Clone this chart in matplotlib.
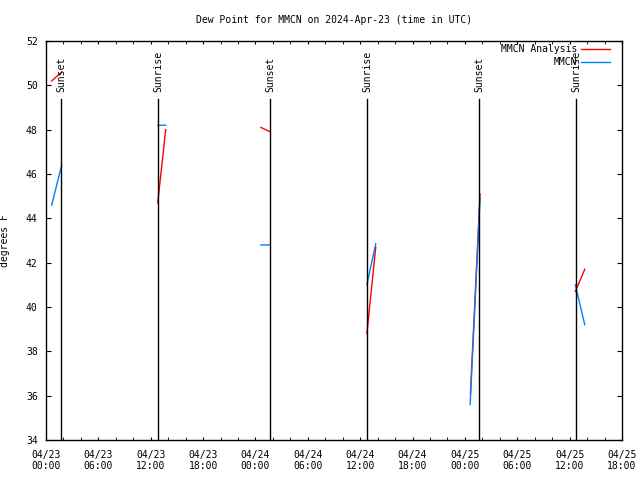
import matplotlib
matplotlib.use('Agg')
import matplotlib.pyplot as plt
import matplotlib.dates as mdates
import matplotlib.transforms as mtransforms
import numpy as np
import pandas as pd

plt.rcParams['font.family'] = 'DejaVu Sans Mono'
plt.rcParams['font.size'] = 7

# Analysis series (red), NaN breaks between windows
analysis_times = ['2024-04-23 00:39', '2024-04-23 01:48', None,
                  '2024-04-23 12:48', '2024-04-23 13:43', None,
                  '2024-04-24 00:38', '2024-04-24 01:42', None,
                  '2024-04-24 12:46', '2024-04-24 13:47', None,
                  '2024-04-25 00:38', '2024-04-25 01:44', None,
                  '2024-04-25 12:39', '2024-04-25 13:44']
analysis_vals = [50.2, 50.6, np.nan,
                 44.7, 48.0, np.nan,
                 48.1, 47.9, np.nan,
                 38.8, 42.7, np.nan,
                 36.1, 45.1, np.nan,
                 40.7, 41.7]

# Station obs series (blue)
obs_times = ['2024-04-23 00:39', '2024-04-23 01:48', None,
             '2024-04-23 12:48', '2024-04-23 13:43', None,
             '2024-04-24 00:38', '2024-04-24 01:42', None,
             '2024-04-24 12:46', '2024-04-24 13:47', None,
             '2024-04-25 00:36', '2024-04-25 01:44', None,
             '2024-04-25 12:39', '2024-04-25 13:44']
obs_vals = [44.6, 46.4, np.nan,
            48.2, 48.2, np.nan,
            42.8, 42.8, np.nan,
            41.0, 42.85, np.nan,
            35.6, 44.9, np.nan,
            41.0, 39.2]

sun_times = ['2024-04-23 01:45', '2024-04-23 12:52', '2024-04-24 01:43',
             '2024-04-24 12:49', '2024-04-25 01:40', '2024-04-25 12:46']
sun_labels = ['Sunset', 'Sunrise', 'Sunset', 'Sunrise', 'Sunset', 'Sunrise']

t_a = pd.to_datetime(analysis_times)
t_o = pd.to_datetime(obs_times)
t_s = pd.to_datetime(sun_times)

fig = plt.figure(figsize=(6.4, 4.8), dpi=100)
ax = fig.add_axes([46/640, 1 - 440/480, 576/640, 399/480])

ax.plot(t_a, analysis_vals, color='#ff0000', lw=1)
ax.plot(t_o, obs_vals, color='#0080ff', lw=1)

trans = mtransforms.blended_transform_factory(ax.transData, ax.transAxes)
for t, lab in zip(t_s, sun_labels):
    ax.axvline(t, ymin=0, ymax=0.855, color='black', lw=1.0)
    ax.text(t, 0.872, lab, rotation=90, ha='center', va='bottom', transform=trans)

ax.set_xlim(pd.Timestamp('2024-04-23 00:00'), pd.Timestamp('2024-04-25 18:00'))
ax.set_ylim(34, 52)
ax.set_yticks(np.arange(34, 53, 2))
ax.xaxis.set_major_locator(mdates.HourLocator(byhour=[0, 6, 12, 18]))
ax.xaxis.set_minor_locator(mdates.HourLocator(byhour=range(0, 24, 2)))
ax.xaxis.set_major_formatter(mdates.DateFormatter('%m/%d\n%H:%M'))

ax.tick_params(axis='both', which='both', direction='in', top=True, right=True)
ax.tick_params(axis='x', which='both', length=2.5, pad=7)
ax.tick_params(axis='y', length=3.6, pad=6)
for s in ax.spines.values():
    s.set_linewidth(1.0)

ax.set_title('Dew Point for MMCN on 2024-Apr-23 (time in UTC)', fontsize=7, pad=13)
ax.set_ylabel('degrees F')
ax.yaxis.set_label_coords(-0.062, 0.5)

# gnuplot-style key: right aligned text, sample on the right
keys = [('MMCN Analysis', '#ff0000', 0.98), ('MMCN', '#0080ff', 0.947)]
for name, col, yy in keys:
    ax.text(0.922, yy, name, ha='right', va='center', transform=ax.transAxes)
    ax.plot([0.929, 0.979], [yy, yy], color=col, lw=1, transform=ax.transAxes)

fig.savefig('out.png', dpi=100)
